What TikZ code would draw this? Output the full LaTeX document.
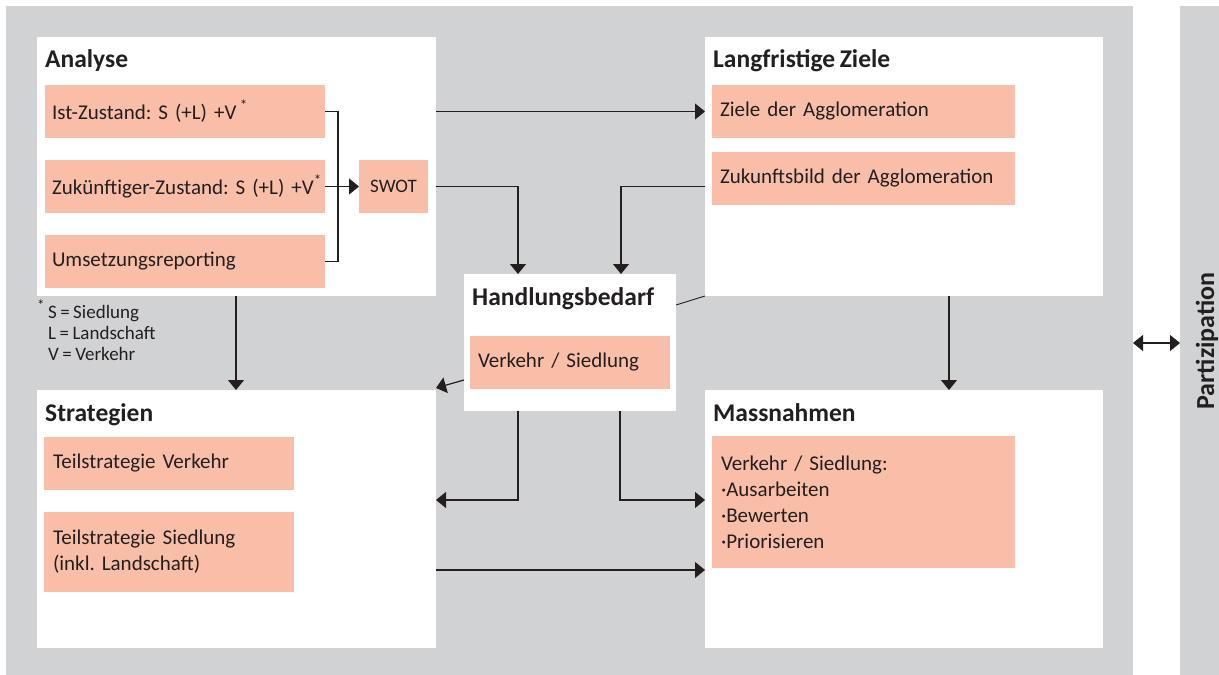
\documentclass[tikz,border=0pt]{standalone}
\usepackage{fontspec}
\setmainfont{Carlito}[WordSpace=0.8]
\usetikzlibrary{arrows.meta,calc}
\definecolor{bggray}{RGB}{209,210,212}
\definecolor{salmon}{RGB}{249,190,167}
\definecolor{ink}{RGB}{35,31,32}
\newcommand{\fnstar}{\raisebox{0.42em}{\fontsize{15}{15}\selectfont *}}
\frenchspacing
\begin{document}
\begin{tikzpicture}[x=1pt,y=-1pt,
  bgbox/.style={fill=bggray,anchor=north west,inner sep=0pt,outer sep=0pt},
  panel/.style={fill=white,anchor=north west,inner sep=0pt,outer sep=0pt},
  item/.style={fill=salmon,anchor=north west,inner ysep=0pt,outer sep=0pt,align=left,text=ink,font=\fontsize{21}{26}\selectfont},
  title/.style={anchor=base west,inner sep=0pt,text=ink,font=\fontsize{25.5}{30}\selectfont\bfseries},
  note/.style={anchor=base west,inner sep=0pt,text=ink,font=\fontsize{19}{21}\selectfont},
  conn/.style={draw=ink,line width=1.2pt},
  hairline/.style={draw=ink,line width=0.9pt},
  arr/.style={conn,-{Triangle[length=10pt,width=16pt]}},
  dbl/.style={conn,{Triangle[length=10pt,width=16pt]}-{Triangle[length=10pt,width=16pt]}}]
\useasboundingbox (0,0) rectangle (1219,675);
% backgrounds
\node[bgbox,minimum width=1127pt,minimum height=669pt] (bg) at (6,6) {};
\node[bgbox,minimum width=39pt,minimum height=669pt] (pbar) at (1180,6) {};
\node[rotate=90,inner sep=0pt,text=ink,font=\fontsize{26}{30}\selectfont\bfseries] (part) at (1207,341) {Partizipation};
% panels
\node[panel,minimum width=399pt,minimum height=259pt] (ana) at (37,37) {};
\node[panel,minimum width=398pt,minimum height=259pt] (lz) at (705,37) {};
\node[panel,minimum width=212pt,minimum height=137pt] (hb) at (464,274) {};
\node[panel,minimum width=399pt,minimum height=258pt] (str) at (37,390) {};
\node[panel,minimum width=398pt,minimum height=258pt] (mn) at (705,390) {};
% titles
\node[title] (tana) at ($(ana.north west)+(8,30)$) {Analyse};
\node[title] (tlz) at ($(lz.north west)+(8,30)$) {Langfristige Ziele};
\node[title] (thb) at ($(hb.north west)+(8,31)$) {Handlungsbedarf};
\node[title] (tstr) at ($(str.north west)+(8,31)$) {Strategien};
\node[title] (tmn) at ($(mn.north west)+(8,31)$) {Massnahmen};
% items
\node[item,inner xsep=7pt,text width=266pt,minimum height=53pt] (ist) at (45,85) {\mbox{Ist-Zustand: S (+L) +V\,\fnstar}};
\node[item,inner xsep=7pt,text width=266pt,minimum height=53pt] (zuk) at (45,160) {\mbox{Zukünftiger-Zustand: S (+L) +V\fnstar}};
\node[item,inner xsep=7pt,text width=266pt,minimum height=53pt] (ums) at (45,235) {Umsetzungsreporting};
\node[item,inner xsep=0pt,minimum width=69pt,minimum height=53pt,align=center,font=\fontsize{19}{22}\selectfont] (swot) at (359,160) {SWOT};
\node[item,inner xsep=8pt,text width=287pt,minimum height=53pt] (zag) at (712,85) {Ziele der Agglomeration};
\node[item,inner xsep=8pt,text width=287pt,minimum height=53pt] (zb) at (712,152) {Zukunftsbild der Agglomeration};
\node[item,inner xsep=8pt,text width=184pt,minimum height=53pt] (vs) at (470,336) {Verkehr / Siedlung};
\node[item,inner xsep=9pt,text width=232pt,minimum height=53pt] (tv) at (44,437) {Teilstrategie Verkehr};
\node[item,inner xsep=9pt,text width=232pt,minimum height=80pt] (ts) at (44,512) {Teilstrategie Siedlung\\(inkl. Landschaft)};
\node[item,inner xsep=9pt,text width=285pt,minimum height=132pt] (mi) at (712,436) {Verkehr / Siedlung:\\·Ausarbeiten\\·Bewerten\\·Priorisieren};
% footnote
\node[anchor=north west,inner sep=0pt,text=ink,font=\fontsize{15}{15}\selectfont] (fstar) at (37,300) {*};
\node[note] (fn1) at (48,318) {S = Siedlung};
\node[note] (fn2) at (48,339) {L = Landschaft};
\node[note] (fn3) at (48,360) {V = Verkehr};
% connectors
\coordinate (brk) at ($(zuk.east)+(13,0)$);
\draw[conn] (ist.east) -| (brk) |- (ums.east);
\draw[arr] (zuk.east) -- (swot.west);
\draw[arr] (ana.east |- ist.east) -- (lz.west |- ist.east);
\draw[arr] (ana.east |- swot.east) -| ($(hb.north west)+(54,0)$);
\draw[arr] (lz.west |- swot.east) -| ($(hb.north west)+(157,0)$);
\draw[arr] ($(hb.south west)+(0,-31)$) -- ($(str.north east)+(0,-2)$);
\draw[hairline] ($(hb.north east)+(0,31)$) -- (lz.south west);
\draw[arr] ($(hb.south west)+(54,0)$) |- ($(str.north east)+(0,110)$);
\draw[arr] ($(hb.south west)+(156,0)$) |- ($(mn.north west)+(0,110)$);
\draw[arr] ($(str.north east)+(0,180)$) -- ($(mn.north west)+(0,180)$);
\draw[arr] ($(ana.south west)+(199,0)$) -- ($(str.north west)+(199,0)$);
\draw[arr] ($(lz.south west)+(244,0)$) -- ($(mn.north west)+(244,0)$);
\draw[dbl] ($(bg.north east)+(0,337)$) -- ($(pbar.north west)+(0,337)$);
\end{tikzpicture}
\end{document}
